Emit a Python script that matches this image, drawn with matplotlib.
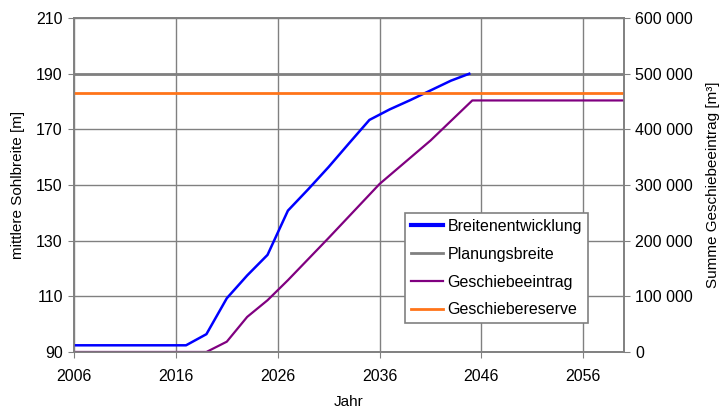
import matplotlib
matplotlib.use('Agg')
import matplotlib.pyplot as plt
from matplotlib.ticker import FuncFormatter

plt.rcParams['font.family'] = ['Liberation Sans', 'DejaVu Sans']

# Breitenentwicklung (mittlere Sohlbreite, linke Achse)
breite_jahr = [2006, 2017, 2019, 2021, 2023, 2025, 2027, 2029, 2031, 2033, 2035, 2037, 2039, 2041, 2043, 2044.8]
breite_wert = [92.4, 92.4, 96.4, 109.3, 117.5, 124.9, 140.8, 148.5, 156.5, 165.0, 173.4, 177.2, 180.5, 184.0, 187.5, 190.0]

# Geschiebeeintrag (Summe, rechte Achse)
eintrag_jahr = [2006, 2019, 2021, 2023, 2025, 2027, 2031, 2036, 2041, 2045.1, 2060]
eintrag_wert = [0, 0, 18500, 63000, 93000, 129000, 205000, 302000, 380000, 452000, 452000]

planungsbreite = 190
geschiebereserve = 465000

x_ticks = [2006, 2016, 2026, 2036, 2046, 2056]

fig = plt.figure(figsize=(7.21, 4.11), dpi=100)
ax = fig.add_axes([0.1026, 0.1436, 0.763, 0.8124])
ax2 = ax.twinx()

l1, = ax.plot(breite_jahr, breite_wert, color='#0000ff', lw=1.8, zorder=3)
l2 = ax.axhline(planungsbreite, color='#808080', lw=2, zorder=2)
l3, = ax2.plot(eintrag_jahr, eintrag_wert, color='#800080', lw=1.6)
l4 = ax2.axhline(geschiebereserve, color='#ff7419', lw=2)

ax.set_xlim(2006, 2060)
ax.set_ylim(90, 210)
ax.set_yticks(range(90, 211, 20))
ax.set_xticks(x_ticks)
ax2.set_ylim(0, 600000)
ax2.set_yticks(range(0, 600001, 100000))
ax2.yaxis.set_major_formatter(FuncFormatter(lambda v, p: f'{int(v):,}'.replace(',', ' ')))

ax.grid(True, color='#808080', lw=1)
ax.set_axisbelow(True)
for a in (ax, ax2):
    for s in a.spines.values():
        s.set_color('#808080')
        s.set_linewidth(1.2)
    a.tick_params(direction='out', length=4, color='#808080', labelsize=11.5, pad=4)
ax.tick_params(axis='x', pad=8)

ax.set_xlabel('Jahr', fontsize=11, labelpad=8)
ax.set_ylabel('mittlere Sohlbreite [m]', fontsize=11, labelpad=8)
ax2.set_ylabel('Summe Geschiebeeintrag [m³]', fontsize=11, labelpad=9)

leg = ax2.legend([l1, l2, l3, l4],
                 ['Breitenentwicklung', 'Planungsbreite', 'Geschiebeeintrag', 'Geschiebereserve'],
                 loc='lower left', bbox_to_anchor=(0.602, 0.087), borderaxespad=0,
                 fontsize=11.5, fancybox=False, framealpha=1, edgecolor='#808080',
                 handlelength=2.0, handletextpad=0.3, borderpad=0.35, labelspacing=0.8)
leg.get_frame().set_linewidth(1.2)
leg.get_lines()[0].set_linewidth(3)

fig.savefig('out.png', dpi=100)
